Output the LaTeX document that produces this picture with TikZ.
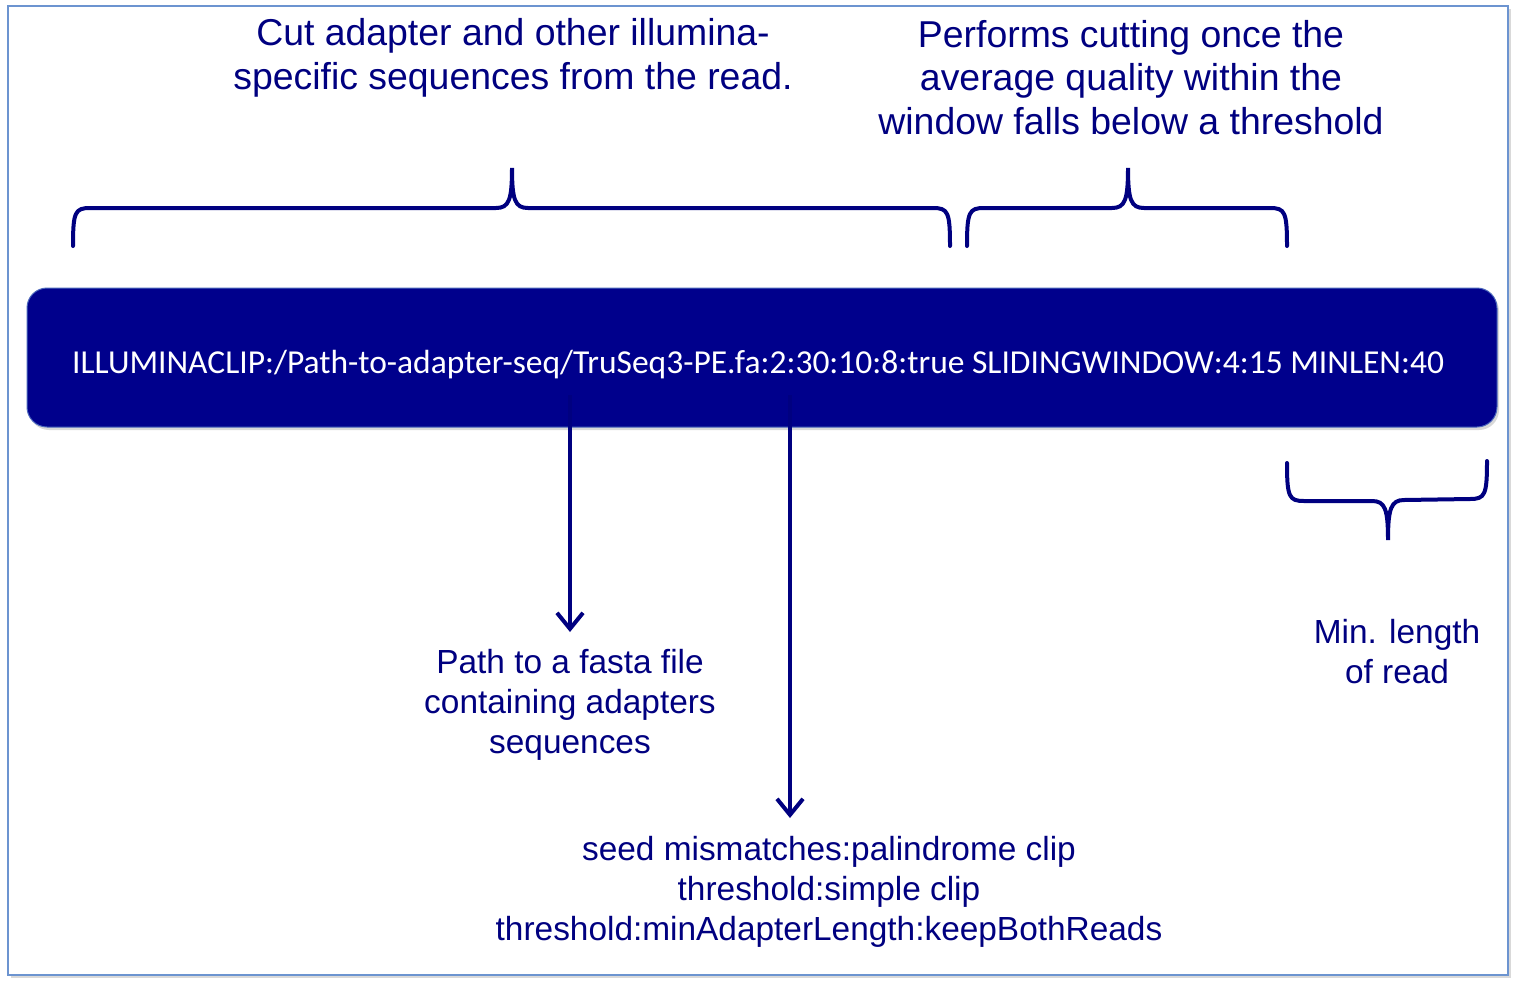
\documentclass[tikz,border=0pt]{standalone}
\usepackage{fontspec}
\setmainfont{Liberation Sans}
\newfontfamily\barfont{Carlito}
\usetikzlibrary{arrows.meta,shadows}
\definecolor{inkblue}{RGB}{0,0,128}
\definecolor{barblue}{RGB}{0,0,140}
\definecolor{frameblue}{RGB}{108,148,208}
\tikzset{
	note/.style={text=inkblue, align=center, inner sep=0pt, font=\fontsize{18.7}{21.75}\selectfont},
	smallnote/.style={note, font=\fontsize{16.7}{20}\selectfont},
	brace/.style={draw=inkblue, line width=2pt, line cap=round},
	arr/.style={draw=inkblue, line width=2pt, -{Straight Barb[length=8pt,width=13pt]}},
	cmdbar/.style={fill=barblue, draw=frameblue!70!barblue, line width=0.5pt, rounded corners=10pt,
		minimum width=735pt, minimum height=69.5pt,
		drop shadow={opacity=0.3, shadow xshift=1pt, shadow yshift=-1.5pt}},
	cmdtext/.style={text=white, inner sep=0pt, font=\barfont\fontsize{16.75}{20}\selectfont},
}
\begin{document}
\begin{tikzpicture}[x=0.5pt, y=-0.5pt]
	\useasboundingbox (0,0) rectangle (1516,986);
	\draw[frameblue, line width=1pt, fill=white, drop shadow={opacity=0.3, shadow xshift=1.5pt, shadow yshift=-1.5pt}] (8,6) rectangle (1508,975);

	% command line
	\node[cmdbar] (cmd) at (762,357.5) {};
	\node[cmdtext] (cmdtxt) at (758,365) {ILLUMINACLIP:/Path-to-adapter-seq/TruSeq3-PE.fa:2:30:10:8:true SLIDINGWINDOW:4:15 MINLEN:40};

	% notes
	\node[note] (cutlbl) at (513,58) {Cut adapter and other illumina-\\specific sequences from the read.};
	\node[note] (winlbl) at (1131,77.5) {Performs cutting once the\\average quality within the\\window falls below a threshold};
	\node[smallnote] (adlbl) at (570,705) {Path to a fasta file\\containing adapters\\sequences};
	\node[smallnote] (seedlbl) at (829,892) {seed mismatches:palindrome clip\\threshold:simple clip\\threshold:minAdapterLength:keepBothReads};
	\node[smallnote] (minlbl) at (1397,652) {Min. length\\of read};

	% braces
	\draw[brace] (73,246) .. controls (73,212) and (75,208) .. (90,208) -- (496,208)
		.. controls (509,208) and (512,200) .. (512,168) .. controls (512,200) and (515,208) .. (528,208)
		-- (933,208) .. controls (948,208) and (950,212) .. (950,246);
	\draw[brace] (967,246) .. controls (967,212) and (969,208) .. (984,208) -- (1112,208)
		.. controls (1125,208) and (1128,200) .. (1128,168) .. controls (1128,200) and (1131,208) .. (1144,208)
		-- (1270,208) .. controls (1285,208) and (1287,212) .. (1287,246);
	\draw[brace] (1287,463) .. controls (1287,497) and (1289,501) .. (1304,501) -- (1372,501)
		.. controls (1385,501) and (1388,509) .. (1388,540) .. controls (1388,509) and (1391,500) .. (1404,500)
		-- (1470,499) .. controls (1485,499) and (1487,495) .. (1487,461);

	% arrows
	\coordinate (adsrc) at (570,395);
	\coordinate (adtip) at (570,632);
	\coordinate (seedsrc) at (790,395);
	\coordinate (seedtip) at (790,818);
	\draw[arr] (adsrc) -- (adtip);
	\draw[arr] (seedsrc) -- (seedtip);
\end{tikzpicture}
\end{document}
